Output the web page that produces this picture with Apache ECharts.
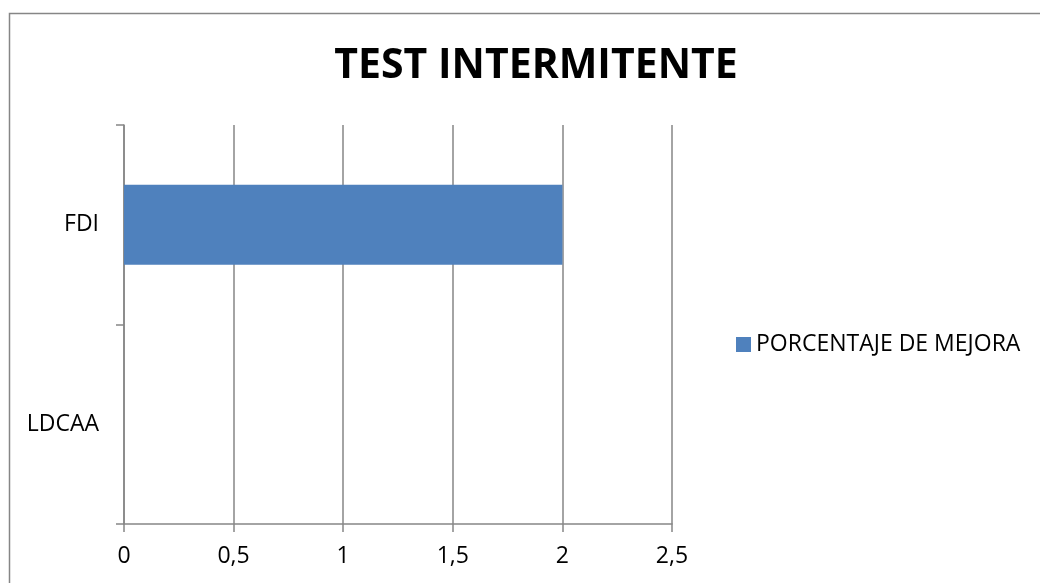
<!DOCTYPE html>
<html>
<head>
<meta charset="utf-8">
<script src="https://cdn.jsdelivr.net/npm/echarts@6/dist/echarts.min.js"></script>
<style>
  html, body { margin: 0; padding: 0; background: #fff; }
  #main { width: 1040px; height: 583px; }
</style>
</head>
<body>
<div id="main"></div>
<script type="text/javascript">
  // 数据
  var categories = ['FDI', 'LDCAA'];
  var mejora = [2, 0];
  var seriesName = 'PORCENTAJE DE MEJORA';
  var chartTitle = 'TEST INTERMITENTE';
  var xMin = 0, xMax = 2.5, xStep = 0.5;

  var myChart = echarts.init(document.getElementById('main'));
  var gray = '#868686';
  var font = 'Open Sans';

  var option = {
    backgroundColor: '#fff',
    animation: false,
    title: {
      text: chartTitle,
      left: 531,
      top: 41,
      textAlign: 'center',
      textStyle: { fontFamily: font, fontWeight: 'bold', fontSize: 41, color: '#000' }
    },
    legend: {
      data: [seriesName],
      left: 731,
      top: 328,
      icon: 'rect',
      itemWidth: 15,
      itemHeight: 15,
      itemGap: 8,
      textStyle: { fontFamily: font, fontSize: 23, color: '#000' }
    },
    grid: { left: 124, right: 368, top: 125, bottom: 59 },
    graphic: [{
      type: 'rect',
      shape: { x: 9.5, y: 13.5, width: 1200, height: 800 },
      style: { fill: 'none', stroke: gray, lineWidth: 1.5 },
      silent: true
    }],
    xAxis: {
      type: 'value',
      min: xMin,
      max: xMax,
      interval: xStep,
      axisLine: { show: true, lineStyle: { color: gray, width: 1.5 } },
      axisTick: { show: true, length: 8, lineStyle: { color: gray, width: 1.5 } },
      splitLine: { show: true, lineStyle: { color: gray, width: 1.5 } },
      axisLabel: {
        margin: 21,
        fontFamily: font, fontSize: 23, color: '#000',
        formatter: function (v) { return String(v).replace('.', ','); }
      }
    },
    yAxis: {
      type: 'category',
      inverse: true,
      data: categories,
      axisLine: { show: true, lineStyle: { color: gray, width: 1.5 } },
      axisTick: { show: true, length: 8, alignWithLabel: false, lineStyle: { color: gray, width: 1.5 } },
      splitLine: { show: false },
      axisLabel: { margin: 25, fontFamily: font, fontSize: 23, color: '#000' }
    },
    series: [{
      name: seriesName,
      type: 'bar',
      data: mejora,
      barWidth: '40%',
      itemStyle: { color: '#4F81BD' }
    }]
  };

  myChart.setOption(option);
</script>
</body>
</html>
